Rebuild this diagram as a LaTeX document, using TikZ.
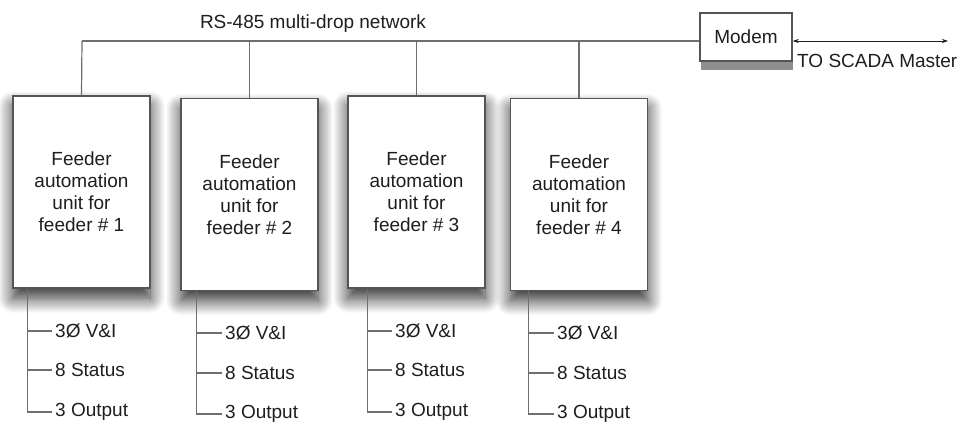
\documentclass[tikz,border=0pt]{standalone}
\usepackage{fontspec}
\setmainfont{Liberation Sans}
\usepackage{tikz}
\usetikzlibrary{positioning,arrows.meta,calc,shadows,shadows.blur}
\definecolor{wire}{HTML}{6E6E6E}
\definecolor{edge}{HTML}{555555}
\definecolor{ink}{HTML}{1E1E1E}
\tikzset{
  unit/.style={rectangle, draw=edge, fill=white, line width=1.4pt,
               align=center, minimum width=137pt, minimum height=192pt,
               text=ink, font=\fontsize{19}{22}\selectfont,
               blur shadow={shadow xshift=0pt, shadow yshift=-10pt,
                            shadow blur radius=15pt, shadow blur steps=15,
                            shadow opacity=85}},
  modembox/.style={rectangle, draw=edge, fill=white, line width=1.4pt,
               minimum width=92pt, minimum height=48pt, text=ink,
               font=\fontsize{19}{22}\selectfont,
               drop shadow={shadow xshift=1pt, shadow yshift=-9pt,
                            fill=black!55, opacity=0.8}},
  txt/.style={text=ink, font=\fontsize{19}{22}\selectfont, inner sep=3pt},
  sig/.style={txt, anchor=west},
  ln/.style={draw=wire, line width=1.2pt},
  link/.style={{Stealth[length=6pt,width=4pt]}-{Stealth[length=6pt,width=4pt]},
               draw=ink, line width=0.9pt},
}
\begin{document}
\begin{tikzpicture}[x=1pt,y=-1pt]
  \useasboundingbox (0,0) rectangle (959,423);

  \node[txt] (net) at (313,24) {RS-485 multi-drop network};
  \node[modembox] (modem) at (746,37) {Modem};

  \node[unit] (f1) at (81.5,192) {Feeder\\automation\\unit for\\feeder \# 1};
  \node[unit] (f2) at (249.5,194.5) {Feeder\\automation\\unit for\\feeder \# 2};
  \node[unit] (f3) at (416.5,192) {Feeder\\automation\\unit for\\feeder \# 3};
  \node[unit] (f4) at (579,194.5) {Feeder\\automation\\unit for\\feeder \# 4};

  % bus
  \coordinate (bus) at (82,41);
  \draw[ln] (bus) -- (modem.west |- bus);
  \draw[ln] (bus) -- (f1.north);
  \draw[ln] (f2.north |- bus) -- (f2.north);
  \draw[ln] (f3.north |- bus) -- (f3.north);
  \draw[ln] (f4.north |- bus) -- (f4.north);

  % to master
  \coordinate (master) at (948,41);
  \draw[link] (modem.east |- master) -- (master);
  \node[sig] (scada) at (794,61) {TO SCADA Master};

  % signals of each unit
  \node[sig] (v1) at (52,331) {3Ø V\&I};
  \node[sig] (s1) at (52,370) {8 Status};
  \node[sig] (o1) at (52,412) {3 Output};
  \node[sig] (v2) at (222,333) {3Ø V\&I};
  \node[sig] (s2) at (222,373) {8 Status};
  \node[sig] (o2) at (222,414) {3 Output};
  \node[sig] (v3) at (392,331) {3Ø V\&I};
  \node[sig] (s3) at (392,370) {8 Status};
  \node[sig] (o3) at (392,412) {3 Output};
  \node[sig] (v4) at (554,333) {3Ø V\&I};
  \node[sig] (s4) at (554,373) {8 Status};
  \node[sig] (o4) at (554,414) {3 Output};

  \coordinate (t1) at ([xshift=15pt]f1.south west);
  \coordinate (t2) at ([xshift=16pt]f2.south west);
  \coordinate (t3) at ([xshift=20pt]f3.south west);
  \coordinate (t4) at ([xshift=19pt]f4.south west);
  \draw[ln] (t1) |- (o1.west);
  \draw[ln] (t1 |- v1.west) -- (v1.west);
  \draw[ln] (t1 |- s1.west) -- (s1.west);
  \draw[ln] (t2) |- (o2.west);
  \draw[ln] (t2 |- v2.west) -- (v2.west);
  \draw[ln] (t2 |- s2.west) -- (s2.west);
  \draw[ln] (t3) |- (o3.west);
  \draw[ln] (t3 |- v3.west) -- (v3.west);
  \draw[ln] (t3 |- s3.west) -- (s3.west);
  \draw[ln] (t4) |- (o4.west);
  \draw[ln] (t4 |- v4.west) -- (v4.west);
  \draw[ln] (t4 |- s4.west) -- (s4.west);
\end{tikzpicture}
\end{document}
